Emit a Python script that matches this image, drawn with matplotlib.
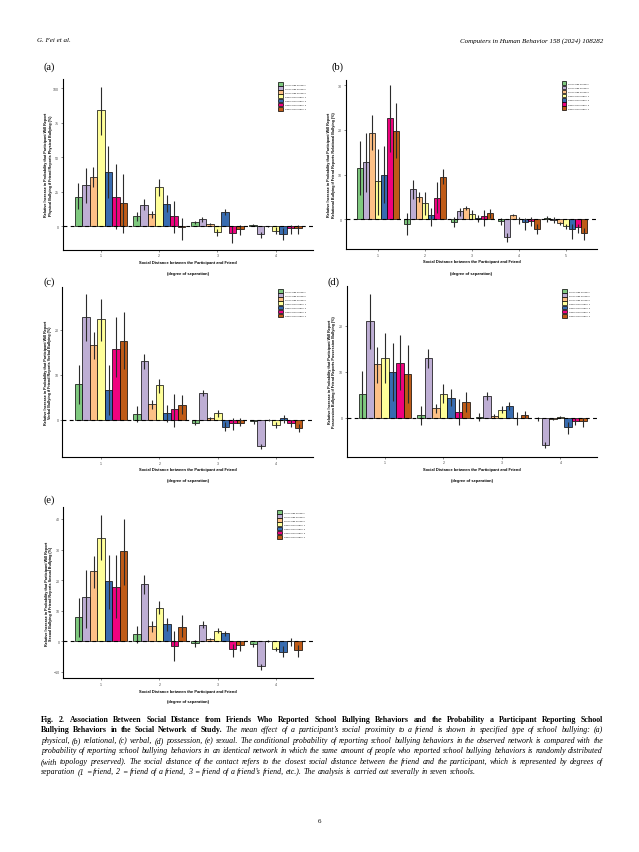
import matplotlib
matplotlib.use("Agg")
import matplotlib.pyplot as plt
import numpy as np

W, H = 639, 853
fig = plt.figure(figsize=(W / 100, H / 100), dpi=100)

schools = ["Junior High School 1", "Junior High School 2", "Junior High School 3",
           "Senior High School 1", "Senior High School 2", "Senior High School 3",
           "Senior High School 4"]
colors = ["#7fc97f", "#beaed4", "#fdc086", "#ffff99", "#386cb0", "#f0027f", "#bf5b17"]

# ---- panel (a) physical ----
a_dist = [1, 2, 3, 4]
a_val = [[21.3, 7.0, 2.7, 0.7], [29.8, 15.5, 4.8, -6.0], [35.8, 8.5, 1.5, -0.2],
         [84.3, 28.0, -4.4, -3.6], [39.0, 16.2, 9.9, -5.8], [21.3, 7.3, -4.8, -1.7],
         [17.0, -1.0, -2.4, -1.7]]
a_lo = [[12, 3.5, 1.5, 0.2], [17, 11.5, 3, -8.5], [28, 6, 0.8, -0.6],
        [66, 22, -7, -5.5], [20, 10, 8, -10], [-2, -5, -12, -6], [-5, -10, -6.5, -6]]
a_hi = [[31, 10, 3.5, 1.2], [42, 19.5, 6.5, -4.5], [43, 11, 2.2, 0.2],
        [101, 34, -2, -1], [58, 22.5, 12, -1.5], [45, 18.5, 0, 1], [38, 6, 1, 1]]

# ---- panel (b) relational ----
b_dist = [1, 2, 3, 4, 5]
b_val = [[11.4, -1.0, -0.5, -0.4, 0.2], [12.7, 6.8, 1.8, -4.0, -0.1],
         [19.4, 5.1, 2.5, 1.0, -0.9], [8.6, 3.6, 1.1, 0.0, -1.6],
         [10.0, 1.0, 0.4, -0.7, -2.2], [22.6, 4.8, 0.7, -0.3, -1.8],
         [19.8, 9.5, 1.4, -2.2, -3.1]]
b_lo = [[5.5, -3.5, -1.8, -1.2, -0.7], [6, 4.5, 0.8, -5, -0.8], [15.5, 3.8, 2, 0.8, -1.3],
        [1, 1, 0, -1, -2.2], [3.7, -1.5, -0.6, -2.3, -4.3], [15, 1.5, -1.5, -1.5, -3],
        [13.8, 7.8, 0.3, -3.2, -4.6]]
b_hi = [[17.5, 1.5, 0.5, 0.2, 0.8], [19.3, 8.8, 2.5, -3, 0.5], [23.3, 6.2, 3, 1.3, -0.5],
        [15.7, 6, 2, 0.5, -1], [16.3, 2.5, 1, 0.2, -1], [30, 8.3, 2, 0.5, -1],
        [26, 11.3, 2.2, -1, -2]]

# ---- panel (c) verbal ----
c_dist = [1, 2, 3, 4]
c_val = [[7.9, 1.3, -0.8, -0.4], [22.8, 13.0, 5.9, -5.8], [16.7, 3.4, 0.3, -0.1],
         [22.4, 7.6, 1.4, -1.1], [6.5, 1.4, -1.6, 0.3], [15.8, 2.3, -0.8, -0.7],
         [17.6, 3.2, -0.7, -1.8]]
c_lo = [[3.5, -0.5, -1.2, -1], [17.5, 11.3, 5.3, -6.5], [13.5, 2.3, 0, -0.3],
        [17.5, 6, 0.6, -1.8], [1, -0.6, -2.6, -0.8], [9.5, -1.6, -2.3, -1.6],
        [11.3, 1.2, -1.5, -2.7]]
c_hi = [[12.2, 3, 0, 0], [28, 14.7, 6.5, -5.3], [19.5, 4.3, 0.5, 0.1],
        [26.8, 9.1, 2.1, -0.5], [12.2, 3.2, -0.5, 1], [22.8, 5.8, 0.4, 0],
        [24, 5.5, 0.3, -1]]

# ---- panel (d) possession ----
d_dist = [1, 2, 3, 4]
d_val = [[5.1, 0.6, 0.3, -0.1], [21.0, 13.1, 4.8, -5.8], [11.8, 2.1, 0.4, -0.2],
         [13.0, 5.3, 1.7, 0.3], [10.0, 4.4, 2.6, -2.0], [12.0, 1.3, 0.1, -0.6],
         [9.6, 3.4, 0.7, -0.6]]
d_lo = [[0, -1.6, -0.6, -0.7], [15, 10.8, 4, -6.5], [7.5, 1, 0, -0.5],
        [7.5, 3.3, 1, 0], [3.7, 2.5, 1.8, -3.4], [6, -1.5, -1.5, -1.6],
        [3.2, 1.2, 0, -2]]
d_hi = [[10.3, 2.5, 1, 0.2], [27, 14.9, 5.6, -5.2], [15.3, 3, 0.8, 0.1],
        [18.5, 7.4, 2.5, 0.5], [16.3, 6.3, 3.4, -0.9], [18, 4.2, 1.4, 0],
        [15.8, 5.7, 1.6, 0]]

# ---- panel (e) sexual ----
e_dist = [1, 2, 3, 4]
e_val = [[7.8, 2.5, -0.5, -0.9], [14.4, 18.6, 5.4, -8.1], [22.9, 4.9, 0.8, 0.1],
         [33.9, 11.0, 3.5, -2.5], [19.6, 5.5, 2.6, -3.4], [17.9, -1.4, -2.5, 0.1],
         [29.4, 4.7, -1.3, -2.7]]
e_lo = [[1.5, -0.5, -1.8, -1.8], [4.4, 15.4, 4.2, -9.5], [17.5, 3, 0.3, -0.3],
        [26.5, 8.8, 2.8, -3.2], [10.7, 3.5, 1.8, -5.2], [7.5, -6.6, -5.2, -1.6],
        [18.3, 1.5, -3.2, -5]]
e_hi = [[14.3, 5, 0.5, -0.4], [23.3, 21.8, 6.6, -7.5], [27.8, 6.6, 1.2, 0.5],
        [41.3, 13.2, 4.3, -2], [28.2, 7.7, 3.4, -1.5], [28.2, 3.3, -1, 1.2],
        [40, 8.7, 0, -1.2]]

SANS = ["Liberation Sans", "DejaVu Sans"]
SERIF = ["Liberation Serif", "DejaVu Serif"]

panels = [
    dict(tag="(a)", kind="Physical", dist=a_dist, val=a_val, lo=a_lo, hi=a_hi,
         box=(63, 80, 313, 250.7), ylim=(-17.2, 106.7), yticks=[0, 25, 50, 75, 100],
         xlim=(0.35, 4.64), lab=(49, 67), leg=(0.86, 0.982)),
    dict(tag="(b)", kind="Relational", dist=b_dist, val=b_val, lo=b_lo, hi=b_hi,
         box=(346, 80.7, 597, 250), ylim=(-6.63, 31.2), yticks=[0, 10, 20, 30],
         xlim=(0.32, 5.67), lab=(338, 67), leg=(0.859, 0.99)),
    dict(tag="(c)", kind="Verbal", dist=c_dist, val=c_val, lo=c_lo, hi=c_hi,
         box=(62.3, 288, 313, 458), ylim=(-8.3, 29.5), yticks=[0, 10, 20],
         xlim=(0.336, 4.63), lab=(49, 282), leg=(0.86, 0.988)),
    dict(tag="(d)", kind="Possession", dist=d_dist, val=d_val, lo=d_lo, hi=d_hi,
         box=(346.7, 286.7, 596.7, 457.7), ylim=(-8.4, 28.7), yticks=[0, 10, 20],
         xlim=(0.345, 4.62), lab=(333, 282), leg=(0.861, 0.98)),
    dict(tag="(e)", kind="Sexual", dist=e_dist, val=e_val, lo=e_lo, hi=e_hi,
         box=(63.3, 508, 313, 679), ylim=(-12.0, 43.9), yticks=[-10, 0, 10, 20, 30, 40],
         xlim=(0.35, 4.64), lab=(49, 500), leg=(0.856, 0.982)),
]

bw = 0.9 / 7
for p in panels:
    l, t, r, b = p["box"]
    ax = fig.add_axes([l / W, 1 - b / H, (r - l) / W, (b - t) / H])
    x = np.array(p["dist"], dtype=float)
    handles = []
    for i in range(7):
        xi = x + (i - 3) * bw
        v = np.array(p["val"][i])
        h = ax.bar(xi, v, width=bw, color=colors[i], edgecolor="black",
                   linewidth=0.5, zorder=2, label=schools[i])
        handles.append(h)
        ax.vlines(xi, p["lo"][i], p["hi"][i], color="#2b2b2b", linewidth=0.8, zorder=3)
    ax.axhline(0, color="black", linewidth=0.8, linestyle=(0, (3.5, 3)), zorder=4)
    ax.set_xlim(*p["xlim"])
    ax.set_ylim(*p["ylim"])
    ax.set_xticks(p["dist"])
    ax.set_xticklabels([str(d) for d in p["dist"]])
    ax.set_yticks(p["yticks"])
    for s in ["top", "right"]:
        ax.spines[s].set_visible(False)
    for s in ["left", "bottom"]:
        ax.spines[s].set_linewidth(0.8)
        ax.spines[s].set_color("black")
    ax.tick_params(length=1.2, width=0.4, color="#333333", labelsize=2.6,
                   labelcolor="#4d4d4d", pad=1.5)
    for tl in ax.get_xticklabels() + ax.get_yticklabels():
        tl.set_fontfamily(SANS)
    ax.set_facecolor("white")
    bw_px = b - t
    ax.text(-14.5 / (r - l), 0.5,
            "Relative Increase in Probability that Participant Will Report\n"
            f"{p['kind']} Bullying if Friend Reports {p['kind']} Bullying (%)",
            transform=ax.transAxes, rotation=90, ha="center", va="center",
            multialignment="center", fontsize=2.7, fontweight="bold",
            family=SANS, linespacing=1.1)
    ax.text(0.5, -12.5 / bw_px, "Social Distance between the Participant and Friend",
            transform=ax.transAxes, ha="center", va="center", fontsize=2.9,
            fontweight="bold", family=SANS)
    ax.text(0.5, -23.5 / bw_px, "(degree of separation)",
            transform=ax.transAxes, ha="center", va="center", fontsize=2.9,
            fontweight="bold", family=SANS)
    ax.legend(handles=handles, loc="upper left", bbox_to_anchor=p["leg"],
              frameon=False, borderpad=0, borderaxespad=0,
              handlelength=2.2, handleheight=2.2, labelspacing=0.18,
              handletextpad=0.8, prop={"family": SANS, "size": 1.6})
    fig.text(p["lab"][0] / W, 1 - p["lab"][1] / H, p["tag"], ha="center", va="center",
             fontsize=7.5, family=SERIF)

# ---- header & footer ----
fig.text(37 / W, 1 - 41 / H, "G. Fei et al.", ha="left", va="center", fontsize=5,
         family=SERIF, style="italic")
fig.text(603 / W, 1 - 41 / H, "Computers in Human Behavior 158 (2024) 108282", ha="right",
         va="center", fontsize=5, family=SERIF, style="italic")
fig.text(320 / W, 1 - 822 / H, "6", ha="center", va="center", fontsize=5, family=SERIF)

# ---- caption (justified) ----
cap_lines = [
    [("Fig. 2.  Association Between Social Distance from Friends Who Reported School Bullying Behaviors and the Probability a Participant Reporting School", "bold", "normal")],
    [("Bullying Behaviors in the Social Network of Study.", "bold", "normal"),
     ("The mean effect of a participant\u2019s social proximity to a friend is shown in specified type of school bullying: (a)", "normal", "italic")],
    [("physical, (b) relational, (c) verbal, (d) possession, (e) sexual. The conditional probability of reporting school bullying behaviors in the observed network is compared with the", "normal", "italic")],
    [("probability of reporting school bullying behaviors in an identical network in which the same amount of people who reported school bullying behaviors is randomly distributed", "normal", "italic")],
    [("(with topology preserved). The social distance of the contact refers to the closest social distance between the friend and the participant, which is represented by degrees of", "normal", "italic")],
    [("separation (1 = friend, 2 = friend of a friend, 3 = friend of a friend\u2019s friend, etc.). The analysis is carried out severally in seven schools.", "normal", "italic")],
]
cap_y = [720, 730.5, 741, 751.3, 761.7, 772]
cap_left, cap_right = 41, 603
renderer = fig.canvas.get_renderer()


def wpx(s, weight, style, fs):
    tt = fig.text(0, 0, s, fontsize=fs, family=SERIF, fontweight=weight, fontstyle=style)
    wv = tt.get_window_extent(renderer).width
    tt.remove()
    return wv


def words_of(segs):
    out = []
    for txt, wt, st in segs:
        for wd in txt.split():
            out.append((wd, wt, st))
    return out


# choose font size so the fullest justified line fits with normal spacing
fs0 = 5.0
total = cap_right - cap_left
ratios = []
for segs in cap_lines[:-1]:
    ws = words_of(segs)
    sp = wpx("a a", ws[0][1], ws[0][2], fs0) - wpx("aa", ws[0][1], ws[0][2], fs0)
    nat = sum(wpx(wd, wt, st, fs0) for wd, wt, st in ws) + sp * (len(ws) - 1)
    ratios.append(total / nat)
cap_fs = fs0 * min(ratios) * 0.995

for li, segs in enumerate(cap_lines):
    words = words_of(segs)
    widths = [wpx(wd, wt, st, cap_fs) for wd, wt, st in words]
    if li == len(cap_lines) - 1:
        gap = wpx("a a", "normal", "italic", cap_fs) - wpx("aa", "normal", "italic", cap_fs)
    else:
        gap = (total - sum(widths)) / (len(words) - 1)
    xpos = cap_left
    for (wd, wt, st), wv in zip(words, widths):
        fig.text(xpos / W, 1 - (cap_y[li] + 2) / H, wd, ha="left", va="baseline",
                 fontsize=cap_fs, family=SERIF, fontweight=wt, fontstyle=st)
        xpos += wv + gap

fig.savefig("out.png", dpi=100, facecolor="white")
